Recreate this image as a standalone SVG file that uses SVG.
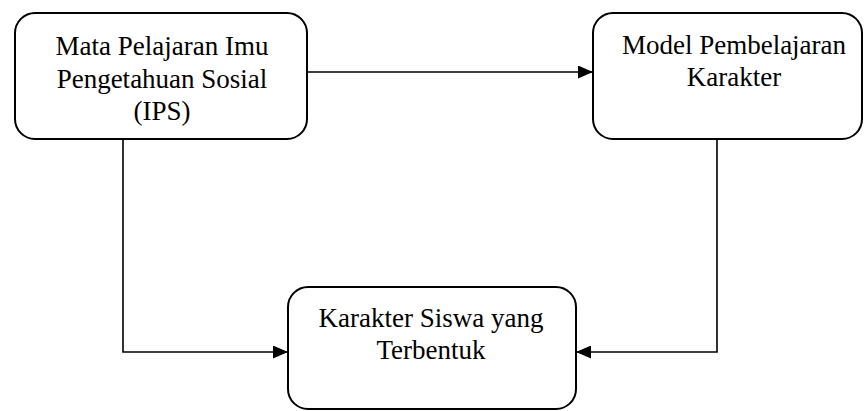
<svg xmlns="http://www.w3.org/2000/svg" width="864" height="411" viewBox="0 0 864 411">
<style>
.box{fill:#fff;stroke:#000;stroke-width:2}
.lbl{font-family:"Liberation Serif","Times New Roman",serif;font-size:27px;fill:#000;text-anchor:middle}
.con{fill:none;stroke:#000;stroke-width:1.6}
</style>
<defs>
<marker id="arr" viewBox="0 0 15 13" refX="15" refY="6.5" markerWidth="15" markerHeight="13" markerUnits="userSpaceOnUse" orient="auto">
<path d="M0,0 L15,6.5 L0,13 Z" fill="#000"/>
</marker>
</defs>
<g id="connectors">
<path class="con" d="M307,72 H593" marker-end="url(#arr)"/>
<path class="con" d="M123,139 V352 H288" marker-end="url(#arr)"/>
<path class="con" d="M717,139 V352 H576" marker-end="url(#arr)"/>
</g>
<g id="node-ips">
<rect class="box" x="15" y="13" width="292" height="126" rx="20"/>
<text class="lbl" x="162" y="55">Mata Pelajaran Imu</text>
<text class="lbl" x="162" y="88">Pengetahuan Sosial</text>
<text class="lbl" x="162" y="120">(IPS)</text>
</g>
<g id="node-model">
<rect class="box" x="593" y="13" width="269" height="126" rx="20"/>
<text class="lbl" x="734" y="54">Model Pembelajaran</text>
<text class="lbl" x="734" y="86">Karakter</text>
</g>
<g id="node-karakter">
<rect class="box" x="288" y="287" width="288" height="122" rx="20"/>
<text class="lbl" x="431" y="327">Karakter Siswa yang</text>
<text class="lbl" x="431" y="359">Terbentuk</text>
</g>
</svg>
